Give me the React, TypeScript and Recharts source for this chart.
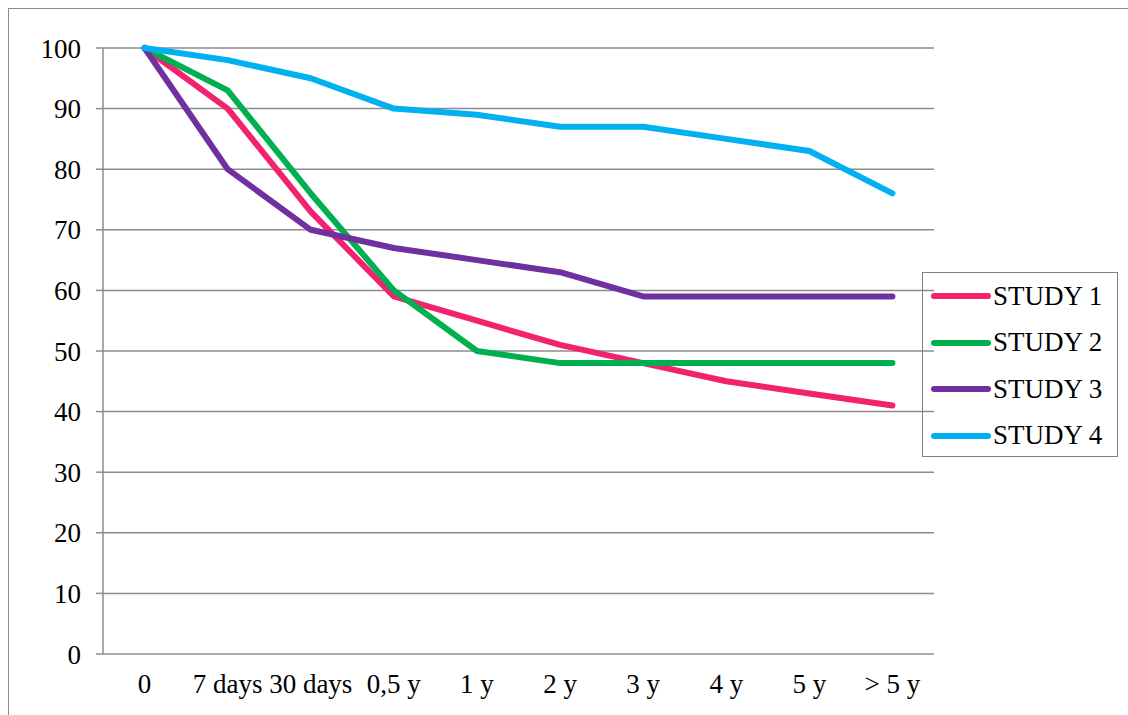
import { LineChart, Line, XAxis, YAxis, CartesianGrid } from "recharts";

const categories = ["0", "7 days", "30 days", "0,5 y", "1 y", "2 y", "3 y", "4 y", "5 y", "> 5 y"];
const study1 = [100, 90, 73, 59, 55, 51, 48, 45, 43, 41];
const study2 = [100, 93, 76, 60, 50, 48, 48, 48, 48, 48];
const study3 = [100, 80, 70, 67, 65, 63, 59, 59, 59, 59];
const study4 = [100, 98, 95, 90, 89, 87, 87, 85, 83, 76];
const yTicks = [0, 10, 20, 30, 40, 50, 60, 70, 80, 90, 100];
const boundaryTicks = [0, 1, 2, 3, 4, 5, 6, 7, 8, 9, 10];

const series = [
    { key: "s1", name: "STUDY 1", color: "#F2226F" },
    { key: "s2", name: "STUDY 2", color: "#00B050" },
    { key: "s3", name: "STUDY 3", color: "#7030A0" },
    { key: "s4", name: "STUDY 4", color: "#00B0F0" },
];

const data = categories.map((name, i) => ({
    name,
    idx: i + 0.5,
    s1: study1[i],
    s2: study2[i],
    s3: study3[i],
    s4: study4[i],
}));

const FONT = '"Liberation Serif", "Times New Roman", serif';
const AXIS = "#8c8c8c";

export default function App() {
    return (
        <div
            style={{
                position: "absolute",
                left: 0,
                top: 0,
                width: 1128,
                height: 715,
                background: "#fff",
                overflow: "hidden",
                fontFamily: FONT,
            }}
        >
            {/* outer chart frame, only top and left edges show in the crop */}
            <div
                style={{
                    position: "absolute",
                    left: 8,
                    top: 8,
                    width: 1130,
                    height: 720,
                    borderLeft: `1px solid ${AXIS}`,
                    borderTop: `1px solid ${AXIS}`,
                }}
            />
            <div style={{ position: "absolute", left: 0, top: 0 }}>
                <LineChart
                    width={1128}
                    height={715}
                    data={data}
                    margin={{ top: 48, right: 194, bottom: 11, left: 33 }}
                >
                    <CartesianGrid vertical={false} stroke={AXIS} strokeWidth={1.5} />
                    {/* tick marks sit between categories, like the office chart */}
                    <XAxis
                        xAxisId="grid"
                        dataKey="idx"
                        type="number"
                        domain={[0, 10]}
                        ticks={boundaryTicks}
                        height={0}
                        stroke={AXIS}
                        strokeWidth={1.5}
                        tickSize={7}
                        tickFormatter={() => ""}
                    />
                    <XAxis
                        xAxisId="cat"
                        dataKey="name"
                        scale="band"
                        height={50}
                        axisLine={false}
                        tickLine={false}
                        tickSize={0}
                        tickMargin={20}
                        interval={0}
                        tick={{ fill: "#000", fontSize: 27, fontFamily: FONT }}
                    />
                    <YAxis
                        width={70}
                        domain={[0, 100]}
                        ticks={yTicks}
                        interval={0}
                        stroke={AXIS}
                        strokeWidth={1.5}
                        tickSize={7}
                        tickMargin={15}
                        tick={{ fill: "#000", fontSize: 27, fontFamily: FONT }}
                    />
                    {series.map((s) => (
                        <Line
                            key={s.key}
                            xAxisId="cat"
                            type="linear"
                            dataKey={s.key}
                            name={s.name}
                            stroke={s.color}
                            strokeWidth={6}
                            strokeLinecap="round"
                            strokeLinejoin="round"
                            dot={false}
                            activeDot={false}
                            isAnimationActive={false}
                        />
                    ))}
                </LineChart>
            </div>
            <div
                style={{
                    position: "absolute",
                    left: 922,
                    top: 272,
                    width: 196,
                    height: 185,
                    border: "1.5px solid #808080",
                    boxSizing: "border-box",
                    fontFamily: FONT,
                    fontSize: 27,
                    color: "#000",
                }}
            >
                {series.map((s) => (
                    <div
                        key={s.key}
                        style={{ display: "flex", alignItems: "center", height: 46.5 }}
                    >
                        <svg width={62} height={10} style={{ marginLeft: 7, marginRight: 1 }}>
                            <line x1={4} y1={5} x2={58} y2={5} stroke={s.color} strokeWidth={6} strokeLinecap="round" />
                        </svg>
                        <span>{s.name}</span>
                    </div>
                ))}
            </div>
        </div>
    );
}
